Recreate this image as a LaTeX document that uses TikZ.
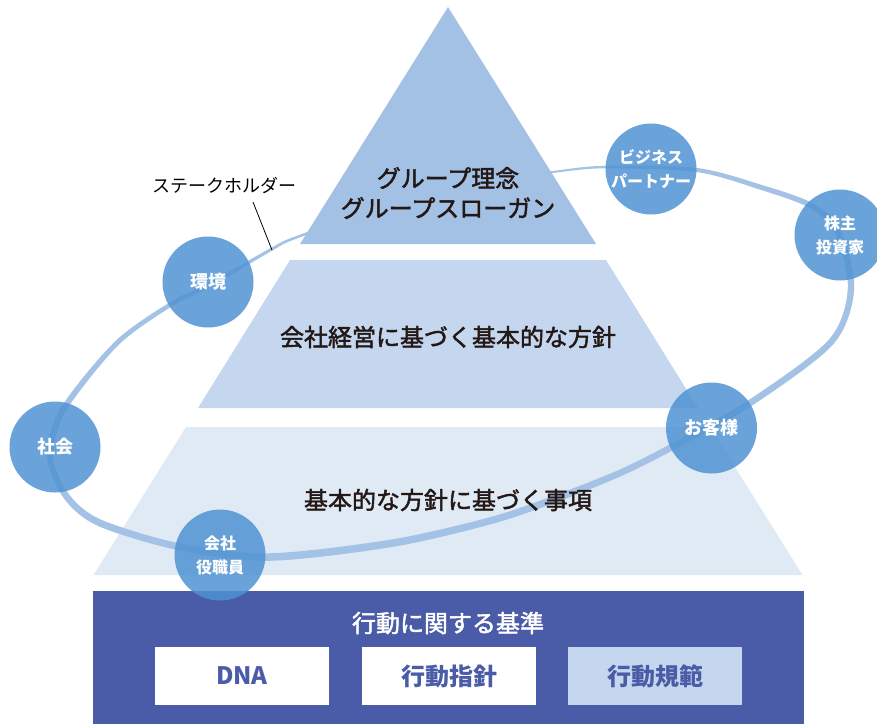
\documentclass[tikz,border=0pt]{standalone}
\usepackage{fontspec}
\setmainfont{Noto Sans CJK JP}
\newcommand{\embold}[1]{\special{pdf:literal direct 2 Tr 0.45 w}#1\special{pdf:literal direct 0 Tr}}
\definecolor{tri}{HTML}{A2C1E4}
\definecolor{mid}{HTML}{C4D7EE}
\definecolor{low}{HTML}{E0EAF5}
\definecolor{navy}{HTML}{4A5BA8}
\definecolor{ringc}{HTML}{A3C2E6}
\definecolor{circ}{HTML}{4F93D2}
\definecolor{ink}{HTML}{231815}
\tikzset{
  stk/.style={circle, minimum size=91pt, inner sep=0pt, fill=circ, fill opacity=0.85, text opacity=1,
    text=white, font=\bfseries\fontsize{16}{24}\selectfont, align=center},
  big/.style={font=\bfseries\fontsize{18}{24}\selectfont},
  ptext/.style={text=ink, font=\fontsize{24}{30}\selectfont, align=center, inner sep=0pt},
  wbox/.style={fill=white},
  lbox/.style={fill=mid},
  blab/.style={text=navy, font=\bfseries\fontsize{24}{28}\selectfont, inner sep=0pt}
}
\begin{document}
\begin{tikzpicture}[x=1pt,y=-1pt]
\useasboundingbox (0,0) rectangle (877,724);
% pyramid lower layers
\fill[low] (186,427) -- (710,427) -- (802.5,575) -- (93.5,575) -- cycle;
\fill[mid] (290,260) -- (606,260) -- (698,408) -- (198,408) -- cycle;
% stakeholder ring
\fill[ringc, even odd rule]
 plot[smooth cycle] coordinates {(171.8,301.1) (207.0,284.2) (271.3,247.7) (299.6,234.8) (429.8,189.0) (552.9,171.0) (607,165.75) (697.3,168.0) (760.7,184.6) (811.3,202.6) (839.7,228.7) (854.2,288.1) (833.4,344.1) (751.8,405.7) (671.6,450.9) (621.3,476.0) (561.2,500.3) (493.9,523.4) (393.6,546.7) (270.1,560.75) (179.3,550.4) (98.6,526.2) (64.4,499.0) (47.0,457.1) (60.4,408.5) (115.3,341.2)}
 plot[smooth cycle] coordinates {(174.2,304.9) (209.0,287.8) (272.7,250.3) (300.4,237.2) (430.2,191.0) (553.1,173.0) (607,168.25) (696.7,172.0) (759.3,189.4) (808.7,207.4) (834.3,231.3) (847.8,287.9) (828.6,339.9) (748.2,400.3) (668.4,445.1) (618.7,470.0) (558.8,493.7) (492.1,516.6) (392.4,539.3) (269.9,553.25) (180.7,543.6) (101.4,519.8) (69.6,495.0) (53.0,456.9) (65.6,411.5) (118.7,344.8)};
% top triangle
\fill[tri] (448,7) -- (596,244) -- (300,244) -- cycle;
% bottom block
\fill[navy] (93,591) rectangle (804,724);
\fill[wbox] (155,647) rectangle (329,705);
\fill[wbox] (362,647) rectangle (536,705);
\fill[lbox] (568,647) rectangle (742,705);
% stakeholder circles
\node[stk, big] (kankyo) at (208,282) {環境};
\node[stk, big] (shakai) at (55,447) {社会};
\node[stk] (yakushoku) at (220,555) {会社\\役職員};
\node[stk, big] (kyaku) at (711.5,428) {お客様};
\node[stk] (partner) at (651,169) {ビジネス\\パートナー};
\node[stk] (kabunushi) at (840,235) {株主\\投資家};
% stakeholder label
\node[text=black, font=\fontsize{18}{20}\selectfont, inner sep=0pt] (stake) at (224,185) {ステークホルダー};
\coordinate (ls) at (253,202);
\coordinate (le) at (272,250);
\draw[black, line width=0.8pt] (ls) -- (le);
% pyramid texts
\node[ptext] (rinen) at (448,193) {\embold{グループ理念}\\\embold{グループスローガン}};
\node[ptext] (houshin) at (448,337) {\embold{会社経営に基づく基本的な方針}};
\node[ptext] (jikou) at (448,500) {\embold{基本的な方針に基づく事項}};
% bottom texts
\node[text=white, font=\fontsize{24}{28}\selectfont, inner sep=0pt] (kijun) at (448,623) {\embold{行動に関する基準}};
\node[blab] (dna) at (242,676) {DNA};
\node[blab] (shishin) at (449,676) {行動指針};
\node[blab] (kihan) at (655,676) {行動規範};
\end{tikzpicture}
\end{document}
